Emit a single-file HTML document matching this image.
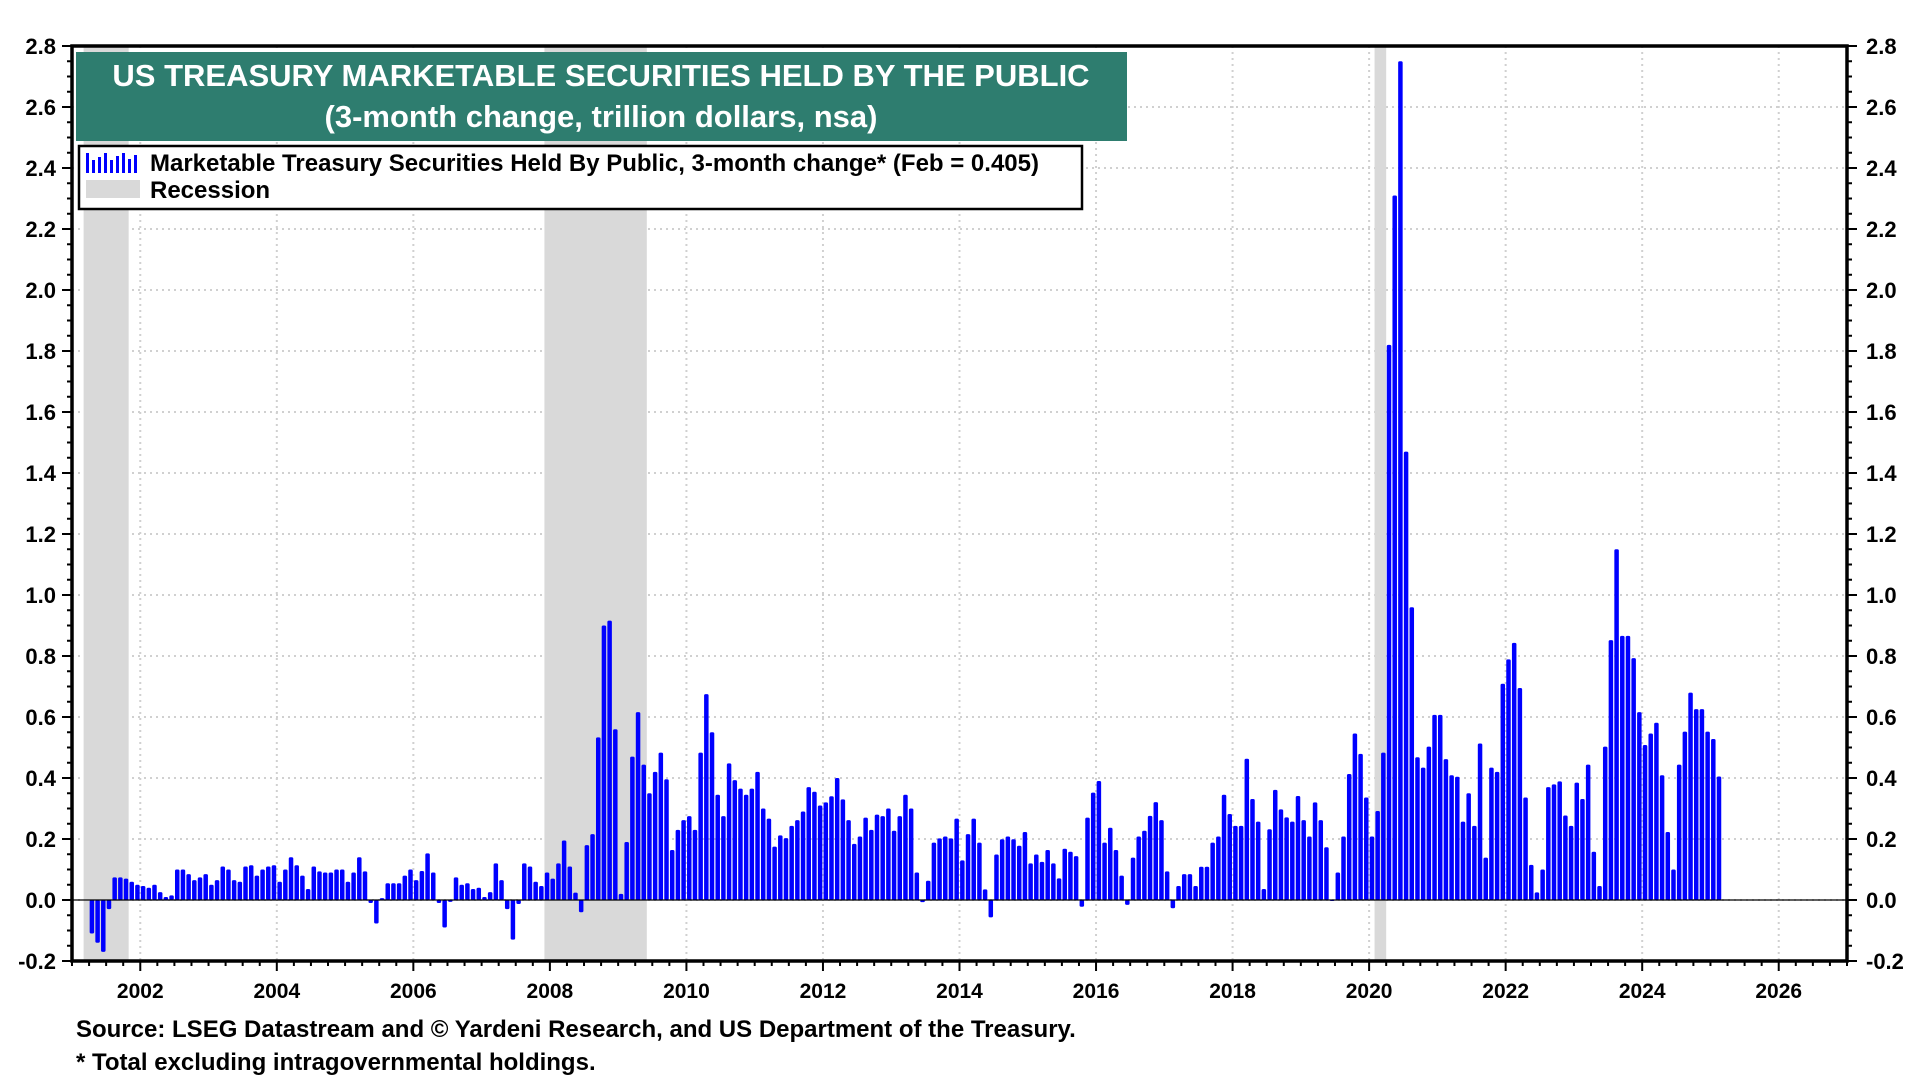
<!DOCTYPE html>
<html><head><meta charset="utf-8"><style>
html,body{margin:0;padding:0;background:#fff;width:1920px;height:1080px;overflow:hidden}
svg text{font-family:"Liberation Sans",Arial,sans-serif;font-weight:bold}
</style></head><body>
<svg id="chart" width="1920" height="1080" xmlns="http://www.w3.org/2000/svg">
<g id="grid"></g>
<g id="recessions"></g>
<g id="bars"></g>
<line id="zero-line" stroke="#000" stroke-width="1.2"/>
<g id="axes"></g>
<rect x="72" y="46" width="1775" height="915" fill="none" stroke="#000" stroke-width="3.5"/>
<g>
<rect x="76" y="52" width="1051" height="89" fill="#2e7d6f"/>
<text x="601" y="86" text-anchor="middle" fill="#fff" font-size="31">US TREASURY MARKETABLE SECURITIES HELD BY THE PUBLIC</text>
<text x="601" y="127" text-anchor="middle" fill="#fff" font-size="31">(3-month change, trillion dollars, nsa)</text>
</g>
<g>
<rect x="79" y="146" width="1003" height="63" fill="#fff" stroke="#000" stroke-width="2.5"/>
<g fill="#0000ff">
<rect x="86" y="153" width="3" height="20"/><rect x="92" y="160" width="3" height="13"/><rect x="98" y="157" width="3" height="16"/><rect x="104" y="153" width="3" height="20"/><rect x="110" y="160" width="3" height="13"/><rect x="116" y="156" width="3" height="17"/><rect x="122" y="153" width="3" height="20"/><rect x="128" y="159" width="3" height="14"/><rect x="134" y="155" width="3" height="18"/>
</g>
<text x="150" y="171" font-size="24">Marketable Treasury Securities Held By Public, 3-month change* (Feb = 0.405)</text>
<rect x="86" y="180" width="54" height="18" fill="#d9d9d9"/>
<text x="150" y="198" font-size="24">Recession</text>
</g>
<text x="76" y="1037" font-size="24">Source: LSEG Datastream and © Yardeni Research, and US Department of the Treasury.</text>
<text x="76" y="1070" font-size="24">* Total excluding intragovernmental holdings.</text>
</svg>
<script>
const startYear = 2001.25;
const values = [-0.11,-0.14,-0.17,-0.03,0.074,0.074,0.07,0.06,0.05,0.046,
0.04,0.05,0.026,0.01,0.015,0.10,0.10,0.085,0.065,0.074,
0.085,0.05,0.065,0.11,0.10,0.065,0.06,0.11,0.114,0.08,
0.10,0.11,0.114,0.06,0.10,0.14,0.114,0.08,0.036,0.11,
0.094,0.09,0.09,0.10,0.10,0.06,0.09,0.14,0.094,-0.01,
-0.077,0.006,0.055,0.055,0.055,0.08,0.10,0.065,0.095,0.153,
0.09,-0.01,-0.09,-0.006,0.074,0.05,0.055,0.036,0.04,0.01,
0.026,0.12,0.065,-0.03,-0.13,-0.013,0.12,0.11,0.06,0.046,
0.09,0.07,0.12,0.195,0.11,0.024,-0.04,0.18,0.216,0.533,
0.90,0.916,0.56,0.02,0.19,0.47,0.616,0.444,0.35,0.42,
0.483,0.396,0.164,0.23,0.262,0.275,0.23,0.483,0.675,0.55,
0.345,0.275,0.448,0.393,0.365,0.345,0.365,0.42,0.30,0.267,
0.175,0.212,0.203,0.243,0.262,0.29,0.37,0.355,0.31,0.32,
0.34,0.40,0.33,0.262,0.184,0.208,0.27,0.23,0.28,0.275,
0.30,0.227,0.275,0.345,0.30,0.09,-0.007,0.063,0.188,0.202,
0.208,0.202,0.267,0.13,0.216,0.267,0.188,0.035,-0.057,0.149,
0.199,0.208,0.199,0.178,0.223,0.12,0.149,0.125,0.164,0.12,
0.071,0.168,0.158,0.144,-0.022,0.27,0.352,0.39,0.188,0.237,
0.164,0.08,-0.016,0.139,0.208,0.227,0.276,0.321,0.262,0.094,
-0.027,0.046,0.085,0.085,0.046,0.109,0.109,0.188,0.208,0.345,
0.282,0.243,0.243,0.463,0.331,0.257,0.036,0.232,0.361,0.297,
0.271,0.257,0.341,0.262,0.208,0.32,0.262,0.173,-0.003,0.09,
0.208,0.413,0.546,0.479,0.336,0.208,0.292,0.483,1.82,2.31,
2.75,1.47,0.96,0.468,0.434,0.503,0.607,0.607,0.462,0.409,
0.404,0.257,0.35,0.243,0.513,0.139,0.434,0.42,0.709,0.789,
0.843,0.695,0.336,0.115,0.025,0.10,0.37,0.379,0.389,0.277,
0.243,0.385,0.331,0.444,0.158,0.046,0.503,0.852,1.15,0.866,
0.866,0.793,0.616,0.508,0.546,0.581,0.409,0.223,0.10,0.444,
0.552,0.68,0.626,0.626,0.552,0.528,0.405];
const recessionStarts = [2001.17, 2007.92, 2020.08];
const recessionEnds = [2001.83, 2009.42, 2020.25];
const yTicks = [-0.2,0,0.2,0.4,0.6,0.8,1.0,1.2,1.4,1.6,1.8,2.0,2.2,2.4,2.6,2.8];
const yTickLabels = ["-0.2","0.0","0.2","0.4","0.6","0.8","1.0","1.2","1.4","1.6","1.8","2.0","2.2","2.4","2.6","2.8"];
const xTickYears = [2002,2004,2006,2008,2010,2012,2014,2016,2018,2020,2022,2024,2026];

const X0=72,X1=1847,Y0=961,Y1=46, XMIN=2001, XMAX=2027, YMIN=-0.2, YMAX=2.8;
const xs = t => X0 + (t-XMIN)/(XMAX-XMIN)*(X1-X0);
const ys = v => Y0 - (v-YMIN)/(YMAX-YMIN)*(Y0-Y1);
const NS="http://www.w3.org/2000/svg";
function mk(tag, parent){const e=document.createElementNS(NS,tag);document.getElementById(parent).appendChild(e);return e;}

yTicks.forEach((v,i)=>{
  if(i===0||i===yTicks.length-1) return;
  const l=mk('line','grid');
  
  
  l.setAttribute('x1',X0);l.setAttribute('x2',X1);l.setAttribute('y1',ys(v));l.setAttribute('y2',ys(v));
  l.setAttribute('stroke','#d0d0d0');l.setAttribute('stroke-width','2');l.setAttribute('stroke-dasharray','2,4');
});
xTickYears.forEach(y=>{
  const l=mk('line','grid');
  
  
  l.setAttribute('x1',xs(y));l.setAttribute('x2',xs(y));l.setAttribute('y1',Y1);l.setAttribute('y2',Y0);
  l.setAttribute('stroke','#d0d0d0');l.setAttribute('stroke-width','2');l.setAttribute('stroke-dasharray','2,4');
});
recessionStarts.forEach((s,i)=>{
  const r=mk('rect','recessions');
  
  
  r.setAttribute('x',xs(s));r.setAttribute('width',xs(recessionEnds[i])-xs(s));
  r.setAttribute('y',Y1);r.setAttribute('height',Y0-Y1);r.setAttribute('fill','#d9d9d9');
});
values.forEach((v,i)=>{
  const t=startYear+(i+0.5)/12;
  const r=mk('rect','bars');
  
  
  const y0=ys(0), y1=ys(v);
  r.setAttribute('x',xs(t)-2.25);r.setAttribute('width',4.5);
  r.setAttribute('y',Math.min(y0,y1));r.setAttribute('height',Math.max(1,Math.abs(y1-y0)));
  r.setAttribute('rx',1.5);
  r.setAttribute('fill','#0000ff');
});
const z=document.getElementById('zero-line');
z.setAttribute('x1',X0);z.setAttribute('x2',X1);z.setAttribute('y1',ys(0));z.setAttribute('y2',ys(0));
yTicks.forEach((v,i)=>{
  const a=mk('text','axes');
  
  
  a.setAttribute('x',56);a.setAttribute('y',ys(v)+8);a.setAttribute('text-anchor','end');a.setAttribute('font-size','22');
  a.textContent=yTickLabels[i];
  const b=mk('text','axes');
  
  
  b.setAttribute('x',1866);b.setAttribute('y',ys(v)+8);b.setAttribute('font-size','22');
  b.textContent=yTickLabels[i];
});
for(let v=YMIN; v<=YMAX+1e-6; v+=0.05){
  const major=Math.abs(Math.round(v*5)-v*5)<1e-6;
  [[X0,-1],[X1,1]].forEach(([x,d])=>{
    const l=mk('line','axes');
    
    
    l.setAttribute('x1',x);l.setAttribute('x2',x+d*(major?10:5));l.setAttribute('y1',ys(v));l.setAttribute('y2',ys(v));
    l.setAttribute('stroke','#000');l.setAttribute('stroke-width','2');
  });
}
for(let t=XMIN; t<=XMAX+1e-6; t+=0.25){
  const major=Math.abs(t-Math.round(t))<1e-6 && Math.round(t)%2===0;
  const l=mk('line','axes');
  
  
  l.setAttribute('x1',xs(t));l.setAttribute('x2',xs(t));l.setAttribute('y1',Y0);l.setAttribute('y2',Y0+(major?10:5));
  l.setAttribute('stroke','#000');l.setAttribute('stroke-width','2');
}
xTickYears.forEach(y=>{
  const a=mk('text','axes');
  
  
  a.setAttribute('x',xs(y));a.setAttribute('y',998);a.setAttribute('text-anchor','middle');a.setAttribute('font-size','21');
  a.textContent=String(y);
});
</script>
</body></html>
